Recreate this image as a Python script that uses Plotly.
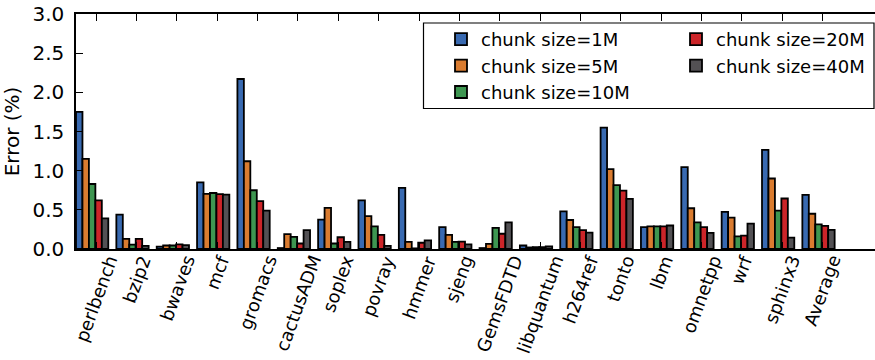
import numpy as np
import plotly.graph_objects as go

categories = ["perlbench", "bzip2", "bwaves", "mcf", "gromacs", "cactusADM", "soplex",
              "povray", "hmmer", "sjeng", "GemsFDTD", "libquantum", "h264ref", "tonto",
              "lbm", "omnetpp", "wrf", "sphinx3", "Average"]

series_names = ["chunk size=1M", "chunk size=5M", "chunk size=10M",
                "chunk size=20M", "chunk size=40M"]

err_1m = [1.75, 0.44, 0.03, 0.85, 2.17, 0.012, 0.375, 0.62, 0.78, 0.28, 0.012,
          0.045, 0.48, 1.55, 0.28, 1.045, 0.475, 1.265, 0.69]
err_5m = [1.15, 0.13, 0.045, 0.705, 1.12, 0.19, 0.525, 0.42, 0.09, 0.18, 0.065,
          0.02, 0.37, 1.02, 0.29, 0.52, 0.40, 0.90, 0.45]
err_10m = [0.83, 0.055, 0.045, 0.715, 0.75, 0.155, 0.07, 0.29, 0.008, 0.09, 0.27,
           0.025, 0.28, 0.815, 0.29, 0.34, 0.16, 0.49, 0.315]
err_20m = [0.62, 0.13, 0.06, 0.70, 0.61, 0.07, 0.15, 0.18, 0.08, 0.095, 0.195,
           0.025, 0.24, 0.745, 0.29, 0.28, 0.17, 0.645, 0.295]
err_40m = [0.39, 0.04, 0.05, 0.695, 0.49, 0.24, 0.09, 0.04, 0.11, 0.06, 0.34,
           0.033, 0.21, 0.64, 0.30, 0.205, 0.325, 0.145, 0.245]

series_values = [err_1m, err_5m, err_10m, err_20m, err_40m]
colors = ["#396AB1", "#DA7C30", "#3E9651", "#CC2529", "#535154"]
legend_ids = ["legend", "legend", "legend", "legend2", "legend2"]

y_ticks = [0.0, 0.5, 1.0, 1.5, 2.0, 2.5, 3.0]

FONT = "DejaVu Sans"
W, H = 875, 360
ML, MR, MT, MB = 76, 0, 14, 111
PW = W - ML - MR
PH = H - MT - MB

idx = np.arange(len(categories))

fig = go.Figure()
for name, vals, col, lg in zip(series_names, series_values, colors, legend_ids):
    fig.add_trace(go.Bar(
        x=idx, y=vals, name=name, legend=lg,
        marker=dict(color=col, line=dict(color="black", width=1.8)),
    ))

def px_x(px):
    return (px - ML) / PW

def px_y(py):
    return (MT + PH - py) / PH

annotations = []
for i, cat in enumerate(categories):
    annotations.append(dict(
        x=i + 0.1, y=0, xref="x", yref="y", text=cat, showarrow=False,
        textangle=-70, xanchor="center", yanchor="top", yshift=-1,
        font=dict(family=FONT, size=18, color="black"),
    ))

fig.update_layout(
    width=W, height=H,
    margin=dict(l=ML, r=MR, t=MT, b=MB),
    paper_bgcolor="white", plot_bgcolor="white",
    barmode="group", bargap=0.2, bargroupgap=0,
    font=dict(family=FONT, size=20, color="black"),
    xaxis=dict(
        range=[-0.4, 19.4], showgrid=False, zeroline=False,
        showline=True, linecolor="black", linewidth=1.5, mirror="ticks",
        ticks="inside", ticklen=7, tickwidth=1, tickcolor="black",
        tickvals=list(idx + 0.1), showticklabels=False,
    ),
    yaxis=dict(
        range=[0, 3.0], showgrid=False, zeroline=False,
        showline=True, linecolor="black", linewidth=1.5, mirror=False,
        ticks="inside", ticklen=7, tickwidth=1, tickcolor="black",
        tickvals=y_ticks, tickformat=".1f", ticklabelstandoff=6,
        tickfont=dict(family=FONT, size=20, color="black"),
        title=dict(text="Error (%)", font=dict(family=FONT, size=20, color="black"),
                   standoff=8),
    ),
    legend=dict(
        x=px_x(441), y=px_y(21), xanchor="left", yanchor="top",
        orientation="v", bgcolor="rgba(0,0,0,0)", borderwidth=0,
        font=dict(family=FONT, size=18, color="black"), traceorder="normal",
    ),
    legend2=dict(
        x=px_x(676), y=px_y(21), xanchor="left", yanchor="top",
        orientation="v", bgcolor="rgba(0,0,0,0)", borderwidth=0,
        font=dict(family=FONT, size=18, color="black"), traceorder="normal",
    ),
    shapes=[dict(
        type="rect", xref="paper", yref="paper",
        x0=px_x(423.5), x1=px_x(874), y0=px_y(108.5), y1=px_y(23),
        line=dict(color="black", width=1.2), fillcolor="rgba(0,0,0,0)", layer="above",
    )],
    annotations=annotations,
    showlegend=True,
)

fig.write_html("out.html")
